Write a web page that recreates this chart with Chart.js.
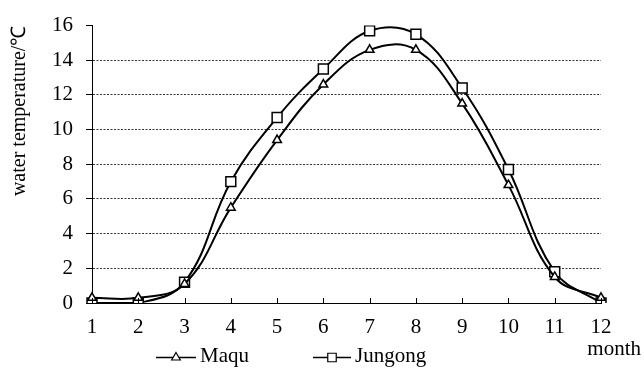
<!DOCTYPE html>
<html>
<head>
<meta charset="utf-8">
<script src="https://cdn.jsdelivr.net/npm/chart.js@4/dist/chart.umd.min.js"></script>
<style>
  html, body { margin: 0; padding: 0; background: #fff; }
  #wrap { width: 644px; height: 370px; }
</style>
</head>
<body>
<div id="wrap"><canvas id="tempChart"></canvas></div>
<script>
const months = ['1', '2', '3', '4', '5', '6', '7', '8', '9', '10', '11', '12'];
const maqu = [0.3, 0.3, 1.1, 5.5, 9.4, 12.6, 14.6, 14.6, 11.5, 6.8, 1.5, 0.3];
const jungong = [0.0, 0.0, 1.2, 7.0, 10.7, 13.5, 15.7, 15.5, 12.4, 7.7, 1.8, 0.0];
const seriesNames = ['Maqu', 'Jungong'];

const FONT = '"Liberation Serif", "Times New Roman", serif';

// inward tick marks on the x axis, legend with line+marker, and the "month" label
const extras = {
    id: 'extras',
    afterDraw(chart) {
        const ctx = chart.ctx;
        const xs = chart.scales.x;
        const area = chart.chartArea;
        ctx.save();
        ctx.strokeStyle = '#000';
        ctx.lineWidth = 1;
        xs.ticks.forEach((t, i) => {
            const px = Math.round(xs.getPixelForTick(i)) + 0.5;
            ctx.beginPath();
            ctx.moveTo(px, area.bottom);
            ctx.lineTo(px, area.bottom - 5);
            ctx.stroke();
        });

        // legend
        ctx.font = '21px ' + FONT;
        ctx.textBaseline = 'alphabetic';
        const items = [
            { x0: 156, x1: 196, style: 'triangle', r: 5, textX: 200 },
            { x0: 313, x1: 351, style: 'rect', r: 6, textX: 355 }
        ];
        const ly = 357.5;
        items.forEach((it, i) => {
            ctx.lineWidth = 1.5;
            ctx.beginPath();
            ctx.moveTo(it.x0, ly);
            ctx.lineTo(it.x1, ly);
            ctx.stroke();
            ctx.fillStyle = '#fff';
            ctx.lineWidth = 1.2;
            Chart.helpers.drawPoint(ctx, {
                pointStyle: it.style, radius: it.r, borderWidth: 1.2, rotation: 0
            }, (it.x0 + it.x1) / 2, ly);
            ctx.fillStyle = '#000';
            ctx.fillText(seriesNames[i], it.textX, 362);
        });

        ctx.textAlign = 'right';
        ctx.fillText('month', 641, 355);
        ctx.restore();
    }
};

new Chart(document.getElementById('tempChart'), {
    type: 'line',
    data: {
        labels: months,
        datasets: [
            {
                label: seriesNames[0],
                data: maqu,
                borderColor: '#000',
                borderWidth: 2,
                tension: 0.4,
                pointStyle: 'triangle',
                pointRadius: 5,
                pointBorderWidth: 1.5,
                pointBackgroundColor: '#fff',
                pointBorderColor: '#000'
            },
            {
                label: seriesNames[1],
                data: jungong,
                borderColor: '#000',
                borderWidth: 2,
                tension: 0.4,
                pointStyle: 'rect',
                pointRadius: 7,
                pointBorderWidth: 1.5,
                pointBackgroundColor: '#fff',
                pointBorderColor: '#000'
            }
        ]
    },
    options: {
        responsive: true,
        maintainAspectRatio: false,
        animation: false,
        layout: { padding: { top: 12, right: 43, bottom: 0, left: 0 } },
        plugins: {
            legend: { display: false },
            tooltip: { enabled: false }
        },
        scales: {
            x: {
                offset: false,
                grid: { display: false, drawTicks: false },
                border: { display: true, color: '#000', width: 1 },
                ticks: { color: '#000', padding: 12, font: { family: FONT, size: 21 }, maxRotation: 0 },
                afterFit: s => { s.height = 67; }
            },
            y: {
                min: 0,
                max: 16,
                grid: {
                    color: c => (c.tick && (c.tick.value === 0 || c.tick.value === 16)) ? 'rgba(0,0,0,0)' : '#333',
                    lineWidth: 1,
                    drawTicks: true,
                    tickLength: 6,
                    tickColor: '#000',
                    tickBorderDash: []
                },
                border: { display: true, color: '#000', width: 1, dash: [2, 1.5] },
                ticks: { stepSize: 2, color: '#000', padding: 13, font: { family: FONT, size: 21 } },
                title: {
                    display: true,
                    text: 'water temperature/℃',
                    align: 'end',
                    color: '#000',
                    padding: { top: 8, bottom: 0 },
                    font: { family: FONT, size: 20 }
                },
                afterFit: s => { s.width = 92; }
            }
        }
    },
    plugins: [extras]
});
</script>
</body>
</html>
